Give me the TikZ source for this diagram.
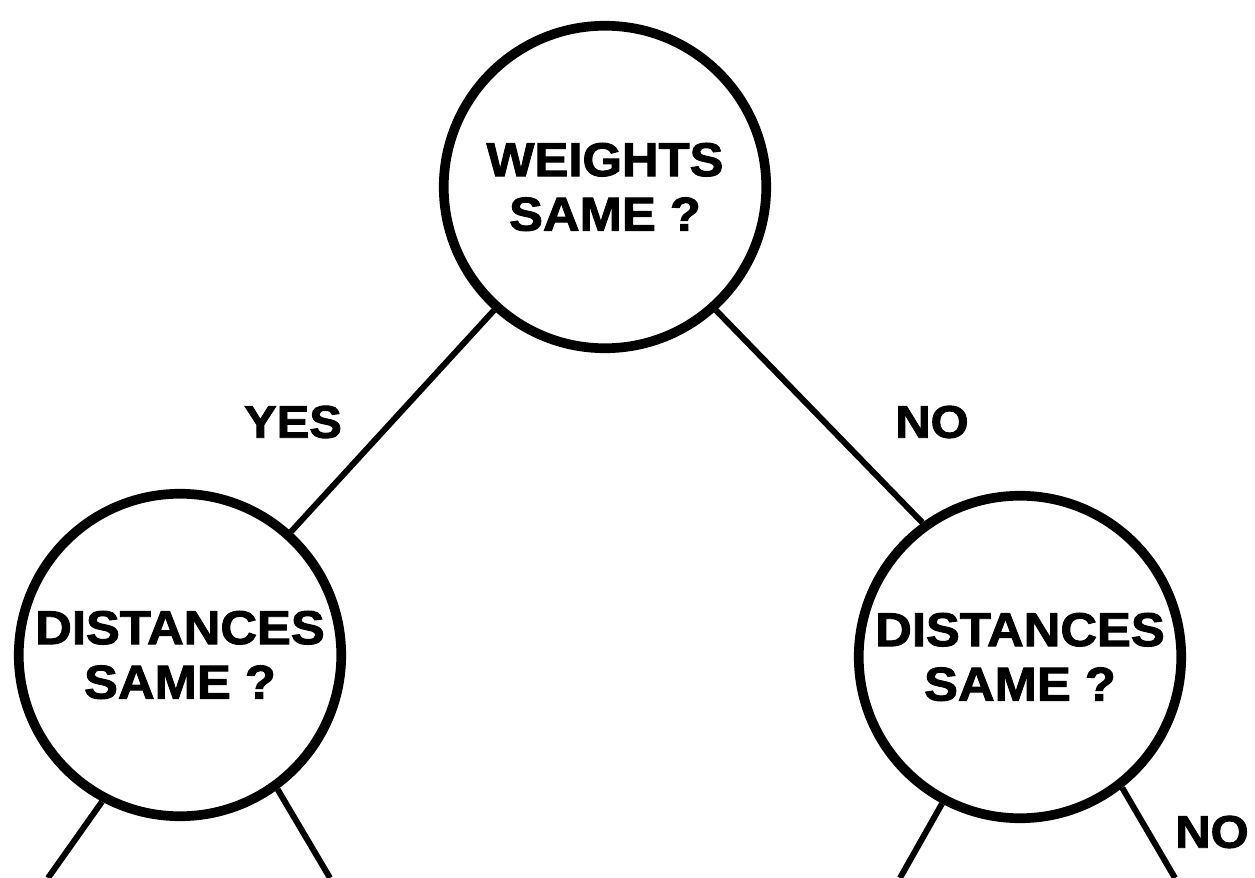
\documentclass[tikz,border=0pt]{standalone}
\usepackage{fontspec}
\setmainfont{Liberation Sans}
\newfontfamily\heavyfont[FakeBold=2,FakeStretch=1.07]{Liberation Sans Bold}
\usepackage{tikz}
\usetikzlibrary{positioning}

\begin{document}
\begin{tikzpicture}[
    %% Styles
    question/.style={
      circle, draw, line width=5.5pt,
      minimum size=6.45cm, inner sep=0pt,
      align=center, font=\fontsize{27}{31}\selectfont\heavyfont
    },
    branch/.style={line width=3.4pt},
    ans/.style={font=\fontsize{26}{30}\selectfont\heavyfont, inner sep=0pt}
  ]

  \useasboundingbox (0,0) rectangle (25.1,-17.56);

  %% ── Row 0: weights question ─────────────────────────────
  \node[question] (weights) at (12.10,-3.74) {WEIGHTS\\SAME ?};

  %% ── Row 1: distances questions ──────────────────────────
  \node[question] (distL) at (3.60,-13.10) {DISTANCES\\SAME ?};
  \node[question] (distR) at (20.40,-13.14) {DISTANCES\\SAME ?};

  %% ── Branch labels ───────────────────────────────────────
  \node[ans] (yesTop) at (5.86,-8.44) {YES};
  \node[ans] (noTop)  at (18.64,-8.44) {NO};
  \node[ans] (noR)    at (24.24,-16.64) {NO};

  %% ── Free ends at the bottom edge ────────────────────────
  \coordinate (endLL) at (0.96,-17.56);
  \coordinate (endLR) at (6.60,-17.56);
  \coordinate (endRL) at (18.00,-17.56);
  \coordinate (endRR) at (23.50,-17.56);

  %% ── Branches ────────────────────────────────────────────
  \draw[branch] (weights.228) -- (distL.48);
  \draw[branch] (weights.312) -- (distR.126);

  \draw[branch] (distL.242) -- (endLL);
  \draw[branch] (distL.306) -- (endLR);
  \draw[branch] (distR.242) -- (endRL);
  \draw[branch] (distR.308) -- (endRR);

\end{tikzpicture}
\end{document}
